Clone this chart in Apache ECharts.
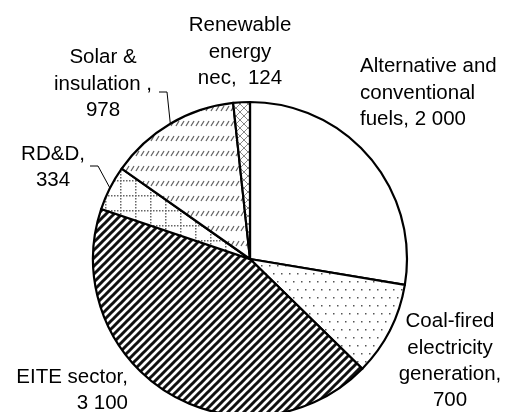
<!DOCTYPE html>
<html><head><meta charset="utf-8">
<script src="https://cdn.jsdelivr.net/npm/echarts@6/dist/echarts.min.js"></script>
<style>html,body{margin:0;padding:0;background:#fff}#c{width:505px;height:412px}</style>
</head><body><div id="c"></div><script>
// ---- data ----
const categories = ["Alternative and\nconventional\nfuels", "Coal-fired\nelectricity\ngeneration", "EITE sector", "RD&D", "Solar &\ninsulation ", "Renewable\nenergy\nnec"];
const values = [2000, 700, 3100, 334, 978, 124];
const separators = [", ", ",\n", ",\n", ",\n", ",\n", ",  "];

// ---- layout (not data) ----
const labelPlacement = [
  {x:360, y:93, align:'left'},
  {x:450, y:361, align:'center'},
  {x:128, y:390, align:'right'},
  {x:53, y:167, align:'center'},
  {x:103, y:84, align:'center'},
  {x:240, y:52, align:'center'}
];
const leaderElbows = {3: [[98,166],[90,166]], 4: [[167,92],[159,92]]};

function fmt(v){ return String(v).replace(/\B(?=(\d{3})+(?!\d))/g, ' '); }

function mk(w,h,draw){ const c=document.createElement('canvas'); c.width=w; c.height=h; const g=c.getContext('2d'); g.fillStyle='#fff'; g.fillRect(0,0,w,h); draw(g); return {image:c, repeat:'repeat'}; }

const patWhite = '#ffffff';
const patDots = mk(8,16,g=>{ g.fillStyle='#555'; g.fillRect(1,1,1.5,1.5); g.fillRect(5,9,1.5,1.5); });
const patStripes = mk(8,8,g=>{ g.strokeStyle='#111'; g.lineWidth=3; g.beginPath(); g.moveTo(-2,10); g.lineTo(10,-2); g.moveTo(-2,2); g.lineTo(2,-2); g.moveTo(6,10); g.lineTo(10,6); g.stroke(); });
const patGrid = mk(15,15,g=>{ g.fillStyle='#666'; for(let i=0;i<15;i+=3){ g.fillRect(i,0,1.5,1.5); g.fillRect(0,i,1.5,1.5);} });
const patDash = mk(10,15,g=>{ g.strokeStyle='#666'; g.lineWidth=1.3; g.beginPath(); [1,6].forEach(x=>{ g.moveTo(x,6); g.lineTo(x+3,1); }); g.stroke(); });
const patCross = mk(8,8,g=>{ g.strokeStyle='#888'; g.lineWidth=1; g.beginPath(); g.moveTo(0,0); g.lineTo(8,8); g.moveTo(8,0); g.lineTo(0,8); g.stroke(); });
const fills = [patWhite, patDots, patStripes, patGrid, patDash, patCross];

const chart = echarts.init(document.getElementById('c'), null, {renderer:'canvas'});
chart.setOption({
  animation:false,
  series:[{
    type:'pie',
    center:[250,259],
    radius:157,
    startAngle:90,
    clockwise:true,
    avoidLabelOverlap:false,
    silent:true,
    itemStyle:{borderColor:'#000', borderWidth:2.2},
    label:{
      show:true, position:'outside', color:'#000',
      fontFamily:'Liberation Sans, Arial, sans-serif', fontSize:20.5, lineHeight:26.3,
      formatter: p => categories[p.dataIndex] + separators[p.dataIndex] + fmt(values[p.dataIndex])
    },
    labelLine:{show:true, length:5, length2:5, smooth:false, lineStyle:{color:'#000', width:1}},
    labelLayout: function(params){
      const i = params.dataIndex, lp = labelPlacement[i];
      const out = {x:lp.x, y:lp.y, align:lp.align, verticalAlign:'middle'};
      if (leaderElbows[i] && params.labelLinePoints) {
        out.labelLinePoints = [params.labelLinePoints[0]].concat(leaderElbows[i]);
      }
      return out;
    },
    data: values.map((v,i)=>({
      value:v, name:categories[i],
      itemStyle:{color:fills[i]},
      labelLine:{show: !!leaderElbows[i]}
    }))
  }]
});
</script></body></html>
